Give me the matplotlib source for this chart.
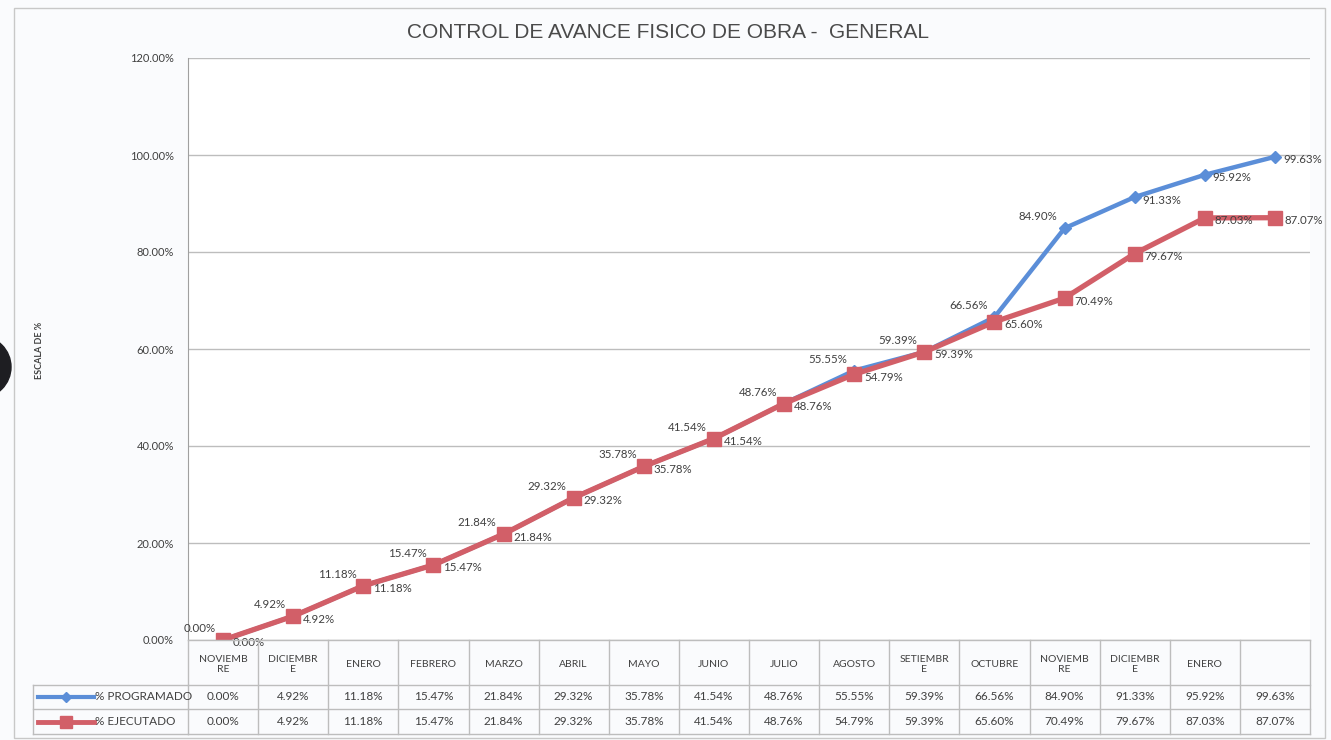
import matplotlib
matplotlib.use("Agg")
import matplotlib.pyplot as plt
from matplotlib.transforms import blended_transform_factory
from matplotlib.lines import Line2D
from matplotlib.patches import Ellipse, Rectangle

# ---------------- data ----------------
months = ["NOVIEMB\nRE", "DICIEMBR\nE", "ENERO", "FEBRERO", "MARZO", "ABRIL", "MAYO",
          "JUNIO", "JULIO", "AGOSTO", "SETIEMBR\nE", "OCTUBRE", "NOVIEMB\nRE",
          "DICIEMBR\nE", "ENERO", ""]
programado = [0.00, 4.92, 11.18, 15.47, 21.84, 29.32, 35.78, 41.54, 48.76, 55.55,
              59.39, 66.56, 84.90, 91.33, 95.92, 99.63]
ejecutado = [0.00, 4.92, 11.18, 15.47, 21.84, 29.32, 35.78, 41.54, 48.76, 54.79,
             59.39, 65.60, 70.49, 79.67, 87.03, 87.07]
series_names = ["% PROGRAMADO", "% EJECUTADO"]
yticks = [0, 20, 40, 60, 80, 100, 120]

title = "CONTROL DE AVANCE FISICO DE OBRA -  GENERAL"
ylabel = "ESCALA DE %"

# ---------------- style ----------------
W, H = 1331, 740
BLUE = "#5B8ED8"
RED = "#D25F68"
TXT = "#404040"
GRID = "#BDBDBD"
FONT = ["Lato", "DejaVu Sans"]

plt.rcParams["font.family"] = FONT

fig = plt.figure(figsize=(W / 100, H / 100), dpi=100)
fig.patch.set_facecolor("#FAFBFD")

def fx(x):
    return x / W

def fy(y):
    return 1 - y / H

# outer frame of the chart
fig.add_artist(Rectangle((fx(14), fy(738)), fx(1325) - fx(14), fy(8) - fy(738),
                         transform=fig.transFigure, fill=False, ec="#C8C8C8", lw=1))

left, right, top, bottom = 188, 1310, 58, 640
ax = fig.add_axes([fx(left), fy(bottom), fx(right) - fx(left), fy(top) - fy(bottom)])
ax.set_facecolor("#FFFFFF")
n = len(months)
x = list(range(n))
ax.set_xlim(-0.5, n - 0.5)
ax.set_ylim(0, 120)
ax.set_yticks(yticks)
ax.set_yticklabels([f"{v:.2f}%" for v in yticks], fontsize=8, color=TXT)
ax.tick_params(axis="y", length=0, pad=10)
ax.set_xticks([])
ax.grid(axis="y", color=GRID, lw=1)
ax.set_axisbelow(True)
for s in ["top", "right", "bottom"]:
    ax.spines[s].set_visible(False)
ax.spines["left"].set_color("#A0A0A0")

ax.plot(x, programado, color=BLUE, lw=3.2, marker="D", ms=6.5, zorder=3)
ax.plot(x, ejecutado, color=RED, lw=3.8, marker="s", ms=10, zorder=4)

px = 0.72  # points per pixel
LFS = 8.3
for i, v in enumerate(programado):
    if i <= 12:
        ax.annotate(f"{v:.2f}%", (i, v), xytext=(-7 * px, 6 * px), textcoords="offset points",
                    ha="right", va="bottom", fontsize=LFS, color=TXT, zorder=5)
    else:
        ax.annotate(f"{v:.2f}%", (i, v), xytext=(8 * px, -3 * px), textcoords="offset points",
                    ha="left", va="center", fontsize=LFS, color=TXT, zorder=5)
for i, v in enumerate(ejecutado):
    ax.annotate(f"{v:.2f}%", (i, v), xytext=(10 * px, -3 * px), textcoords="offset points",
                ha="left", va="center", fontsize=LFS, color=TXT, zorder=5)

# title and y label
fig.text(fx(668), fy(32), title, ha="center", va="center", fontsize=15,
         color="#4A4A4A", family=["Liberation Sans", "DejaVu Sans"])
fig.text(fx(40), fy(350), ylabel, ha="center", va="center", rotation=90,
         fontsize=6.5, color=TXT, fontweight="bold")

# ---------------- data table ----------------
bt = blended_transform_factory(ax.transData, fig.transFigure)
y_head_bot, y_r1_bot, y_r2_bot = 685, 709, 734
leg_left = 33

def hline(x0, x1, y, trans):
    fig.add_artist(Line2D([x0, x1], [fy(y), fy(y)], transform=trans, color=GRID, lw=1))

def vline_data(xd, y0, y1):
    fig.add_artist(Line2D([xd, xd], [fy(y0), fy(y1)], transform=bt, color=GRID, lw=1))

hline(-0.5, n - 0.5, bottom, bt)
for yy in (y_head_bot, y_r1_bot, y_r2_bot):
    hline(-0.5, n - 0.5, yy, bt)
    hline(fx(leg_left), fx(left), yy, fig.transFigure)
fig.add_artist(Line2D([fx(leg_left), fx(leg_left)], [fy(y_head_bot), fy(y_r2_bot)],
                      transform=fig.transFigure, color=GRID, lw=1))
for k in range(n + 1):
    vline_data(k - 0.5, bottom, y_r2_bot)

for i, m in enumerate(months):
    fig.text(i, fy((bottom + y_head_bot) / 2 + 2), m, transform=bt, ha="center", va="center",
             fontsize=7.5, color=TXT, linespacing=1.25)
    fig.text(i, fy((y_head_bot + y_r1_bot) / 2), f"{programado[i]:.2f}%", transform=bt,
             ha="center", va="center", fontsize=8.5, color=TXT)
    fig.text(i, fy((y_r1_bot + y_r2_bot) / 2), f"{ejecutado[i]:.2f}%", transform=bt,
             ha="center", va="center", fontsize=8.5, color=TXT)

# legend keys in the table
for row, (name, col, mk, ms, lw) in enumerate([(series_names[0], BLUE, "D", 5, 3),
                                               (series_names[1], RED, "s", 8, 3.5)]):
    yc = (y_head_bot + y_r1_bot) / 2 if row == 0 else (y_r1_bot + y_r2_bot) / 2
    fig.add_artist(Line2D([fx(38), fx(94)], [fy(yc), fy(yc)], transform=fig.transFigure,
                          color=col, lw=lw))
    fig.add_artist(Line2D([fx(66)], [fy(yc)], transform=fig.transFigure, color=col,
                          marker=mk, ms=ms, lw=0))
    fig.text(fx(95), fy(yc), name, ha="left", va="center", fontsize=8.5, color=TXT)

# scan artifact (punch hole) at left edge
fig.add_artist(Ellipse((fx(-20), fy(367)), 62 / W, 62 / H, transform=fig.transFigure,
                       color="#1E1E22", zorder=10))

fig.savefig("out.png", dpi=100, facecolor=fig.get_facecolor())
